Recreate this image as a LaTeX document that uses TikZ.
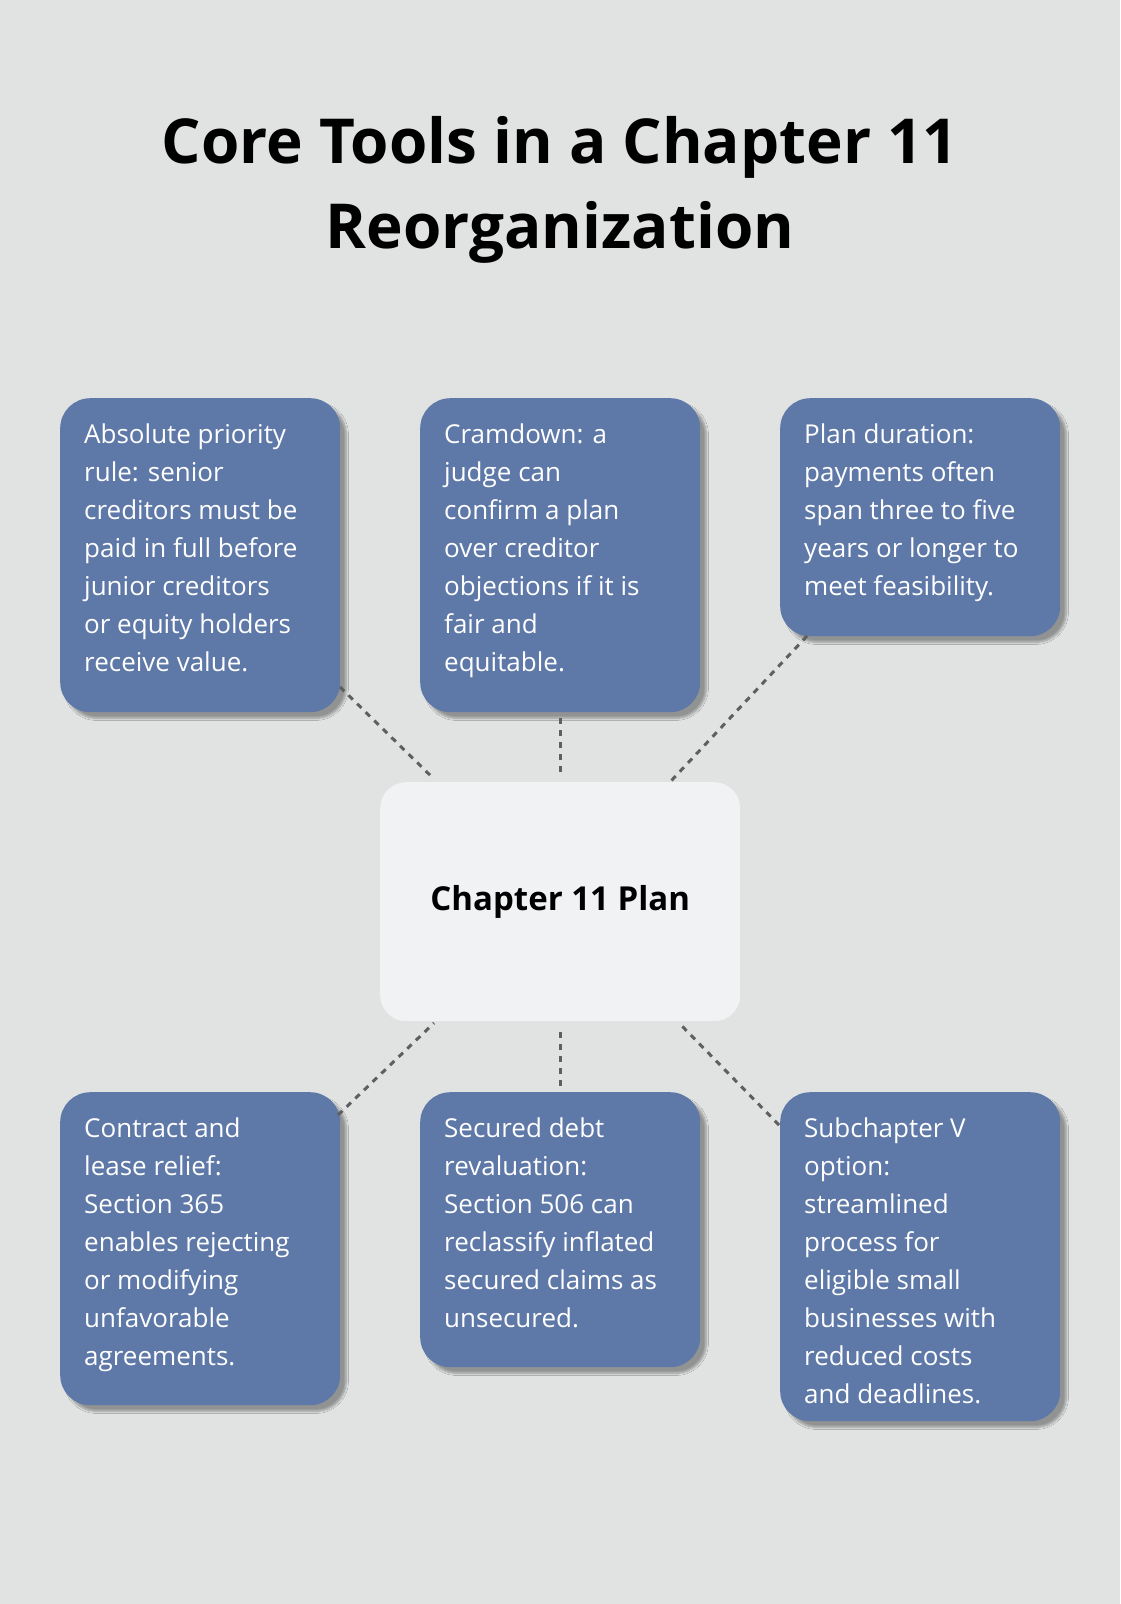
\documentclass[tikz,border=0pt]{standalone}
\usepackage{fontspec}
\setmainfont{Open Sans}
\usetikzlibrary{shadows.blur}
\definecolor{bg}{HTML}{E0E3E2}
\definecolor{boxc}{HTML}{5E78A8}
\definecolor{cen}{HTML}{F0F2F4}
\definecolor{dash}{HTML}{5F5F5F}
\begin{document}
\begin{tikzpicture}[x=1pt,y=-1pt,
  box/.style={fill=boxc,rounded corners=30pt,draw=none,anchor=north west,minimum width=280pt,inner sep=0pt,blur shadow={shadow xshift=6pt,shadow yshift=-6pt,shadow blur steps=8,shadow opacity=35}},
  txt/.style={anchor=north west,align=left,text=white,font=\fontsize{26}{38}\selectfont,inner sep=0pt},
  conn/.style={draw=dash,line width=3pt,dash pattern=on 6pt off 6pt}]
\fill[bg] (0,0) rectangle (1120,1604);
\useasboundingbox (0,0) rectangle (1120,1604);
\node[font=\bfseries\fontsize{62}{85}\selectfont,align=center,inner sep=0pt] (title) at (560,190) {Core Tools in a Chapter 11\\Reorganization};
\node[box,minimum height=314pt] (a) at (60,398) {};
\node[box,minimum height=314pt] (b) at (420,398) {};
\node[box,minimum height=238pt] (c) at (780,398) {};
\node[box,minimum height=313pt] (d) at (60,1092) {};
\node[box,minimum height=275pt] (e) at (420,1092) {};
\node[box,minimum height=329pt] (f) at (780,1092) {};
\node[fill=cen,rounded corners=26pt,anchor=north west,minimum width=360pt,minimum height=239pt,inner sep=0pt,font=\bfseries\fontsize{33}{40}\selectfont] (m) at (380,782) {Chapter 11 Plan};
\node[txt] (ta) at (84,424) {Absolute priority\\rule: senior\\creditors must be\\paid in full before\\junior creditors\\or equity holders\\receive value.};
\node[txt] (tb) at (444,424) {Cramdown: a\\judge can\\confirm a plan\\over creditor\\objections if it is\\fair and\\equitable.};
\node[txt] (tc) at (804,424) {Plan duration:\\payments often\\span three to five\\years or longer to\\meet feasibility.};
\node[txt] (td) at (84,1118) {Contract and\\lease relief:\\Section 365\\enables rejecting\\or modifying\\unfavorable\\agreements.};
\node[txt] (te) at (444,1118) {Secured debt\\revaluation:\\Section 506 can\\reclassify inflated\\secured claims as\\unsecured.};
\node[txt] (tf) at (804,1118) {Subchapter V\\option:\\streamlined\\process for\\eligible small\\businesses with\\reduced costs\\and deadlines.};
\coordinate (a1) at (340,687); \coordinate (a2) at (434,779);
\coordinate (b1) at (560,718); \coordinate (b2) at (560,774);
\coordinate (c1) at (807,636); \coordinate (c2) at (671,781);
\coordinate (d1) at (338,1115); \coordinate (d2) at (434,1023);
\coordinate (e1) at (560,1086); \coordinate (e2) at (560,1030);
\coordinate (f1) at (779,1125); \coordinate (f2) at (679,1023);
\draw[conn] (a1) -- (a2);
\draw[conn] (b1) -- (b2);
\draw[conn] (c1) -- (c2);
\draw[conn] (d1) -- (d2);
\draw[conn] (e1) -- (e2);
\draw[conn] (f1) -- (f2);
\end{tikzpicture}
\end{document}
